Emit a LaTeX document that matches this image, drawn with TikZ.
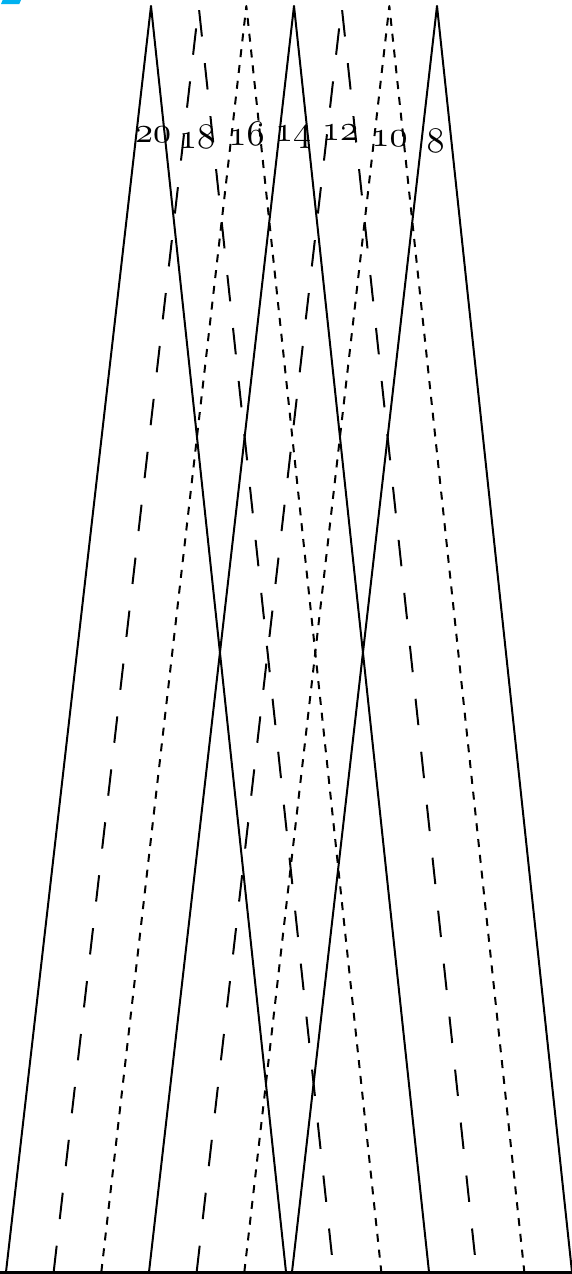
\documentclass[tikz,border=0pt]{standalone}
\definecolor{skyb}{RGB}{0,178,240}
\newcommand\labfont{\fontsize{10}{12}\usefont{OML}{cmm}{m}{it}}
\tikzset{
  leg/.style={line width=2pt, line join=round},
  solidleg/.style={leg},
  longdash/.style={leg, dash pattern=on 26.5pt off 26.77pt},
  shortdash/.style={leg, dash pattern=on 8pt off 7.88pt},
  lab/.style={anchor=base, inner sep=0pt, font=\labfont, scale=3.6, transform shape},
  baseline/.style={line width=2.5pt}
}
\begin{document}
\begin{tikzpicture}[x=1pt,y=-1pt]
\useasboundingbox (0,0) rectangle (572,1274);
% small blue mark
\fill[skyb] (2.7,0) -- (21,0) -- (19.3,4) -- (1,4) -- cycle;
% apexes and bases
\foreach \n/\a in {1/151,2/198.67,3/246.33,4/294,5/341.67,6/389.33,7/437}{
  \coordinate (t\n) at (\a,6);
  \coordinate (l\n) at (\a-145,1272);
  \coordinate (r\n) at (\a+135,1272);
}
\draw[solidleg] (l1) -- (t1) -- (r1);
\draw[solidleg] (l4) -- (t4) -- (r4);
\draw[solidleg] (l7) -- (t7) -- (r7);
\draw[longdash] (l2) -- (t2) -- (r2);
\draw[longdash] (l5) -- (t5) -- (r5);
\draw[shortdash] (l3) -- (t3) -- (r3);
\draw[shortdash] (l6) -- (t6) -- (r6);
% bottom line
\coordinate (b0) at (0,1272.5);
\coordinate (b1) at (572,1272.5);
\draw[baseline] (b0) -- (b1);
% labels
\begin{scope}[y=1pt]
\node[lab] (n20) at (153,-142) {20};
\node[lab] (n18) at (197,-148) {18};
\node[lab] (n16) at (246.5,-145) {16};
\node[lab] (n14) at (293,-141) {14};
\node[lab] (n12) at (340,-140) {12};
\node[lab] (n10) at (389.5,-146) {10};
\node[lab] (n8) at (435.5,-152) {8};
\end{scope}
\end{tikzpicture}
\end{document}
